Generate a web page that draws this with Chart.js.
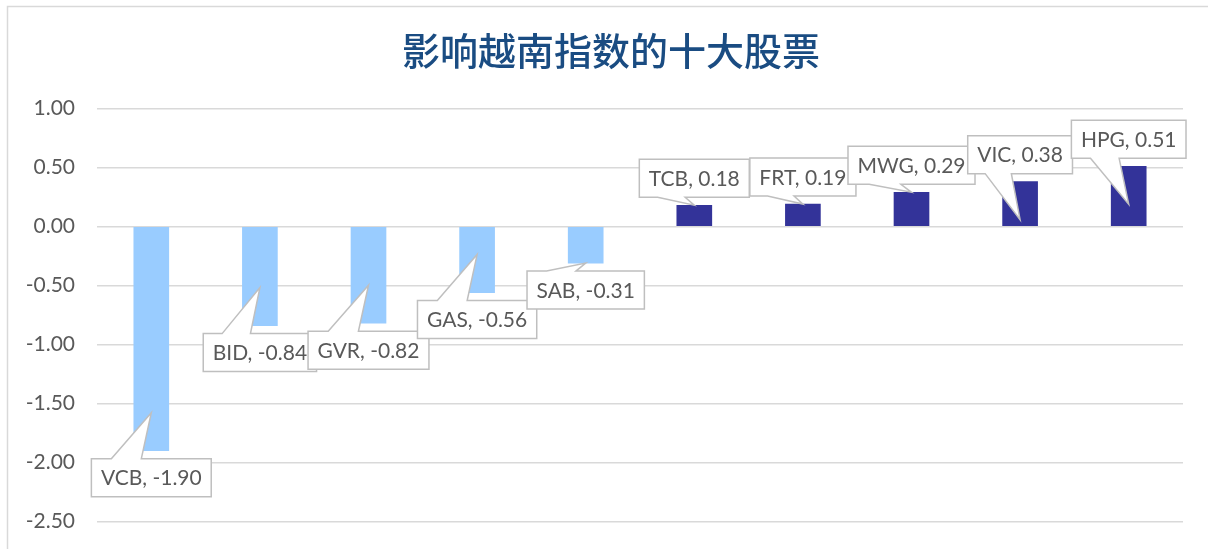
<!DOCTYPE html>
<html>
<head>
<meta charset="utf-8">
<script src="https://cdn.jsdelivr.net/npm/chart.js@4/dist/chart.umd.min.js"></script>
<style>
  html, body { margin: 0; padding: 0; background: #ffffff; }
  #wrap { width: 1208px; height: 549px; }
</style>
</head>
<body>
<div id="wrap"><canvas id="c" width="1208" height="549"></canvas></div>
<script>
// ---- data ----
const titleText = '影响越南指数的十大股票';
const categories = ['VCB', 'BID', 'GVR', 'GAS', 'SAB', 'TCB', 'FRT', 'MWG', 'VIC', 'HPG'];
const values = [-1.90, -0.84, -0.82, -0.56, -0.31, 0.18, 0.19, 0.29, 0.38, 0.51];
const yTickValues = [1.00, 0.50, 0.00, -0.50, -1.00, -1.50, -2.00, -2.50];

// ---- styling ----
const NEG_COLOR = '#99CCFF';
const POS_COLOR = '#333399';
const TEXT_COLOR = '#595959';
const GRID_COLOR = '#D9D9D9';
const LABEL_FONT = '21px Lato';
// how far inside the bar each callout's pointer reaches (px)
const tipInset = [38, 38, 38, 38, 0, 0, 0, 0, 38, 38];
// target plot area (px)
const PLOT = { top: 108.5, bottom: 521.5 };

const frameAndTitle = {
  id: 'frameAndTitle',
  beforeDraw(chart) {
    const ctx = chart.ctx;
    ctx.save();
    ctx.fillStyle = '#ffffff';
    ctx.fillRect(0, 0, chart.width, chart.height);
    ctx.strokeStyle = GRID_COLOR;
    ctx.lineWidth = 1.5;
    ctx.beginPath();
    ctx.moveTo(7.5, chart.height);
    ctx.lineTo(7.5, 6.5);
    ctx.lineTo(chart.width, 6.5);
    ctx.stroke();
    ctx.fillStyle = '#1A4C82';
    ctx.font = '500 38px "Noto Sans CJK SC"';
    ctx.textAlign = 'center';
    ctx.textBaseline = 'middle';
    ctx.fillText(titleText, 611, 51);
    ctx.restore();
  }
};

const callouts = {
  id: 'callouts',
  afterDatasetsDraw(chart) {
    const ctx = chart.ctx;
    const meta = chart.getDatasetMeta(0);
    ctx.save();
    ctx.font = LABEL_FONT;
    meta.data.forEach((bar, i) => {
      const v = values[i];
      const text = categories[i] + ', ' + v.toFixed(2);
      const tw = ctx.measureText(text).width;
      const w = tw + 19, h = 38;
      const neg = v < 0;
      const cx = bar.x;
      const cy = neg ? bar.y + 27 : bar.y - 27;
      const l = cx - w / 2, r = cx + w / 2, t = cy - h / 2, b = cy + h / 2;
      const tipX = bar.x;
      const tipY = neg ? bar.y - tipInset[i] : bar.y + tipInset[i];
      const x1 = l + w * 2 / 12, x2 = l + w * 5 / 12;
      ctx.beginPath();
      ctx.moveTo(l, t);
      if (neg) {
        ctx.lineTo(x1, t);
        ctx.lineTo(tipX, tipY);
        ctx.lineTo(x2, t);
      }
      ctx.lineTo(r, t);
      ctx.lineTo(r, b);
      if (!neg) {
        ctx.lineTo(x2, b);
        ctx.lineTo(tipX, tipY);
        ctx.lineTo(x1, b);
      }
      ctx.lineTo(l, b);
      ctx.closePath();
      ctx.fillStyle = '#ffffff';
      ctx.fill();
      ctx.strokeStyle = '#BFBFBF';
      ctx.lineWidth = 1.5;
      ctx.stroke();
      ctx.fillStyle = TEXT_COLOR;
      ctx.textAlign = 'center';
      ctx.textBaseline = 'middle';
      ctx.fillText(text, cx, cy + 1);
    });
    ctx.restore();
  }
};

new Chart(document.getElementById('c'), {
  type: 'bar',
  data: {
    labels: categories,
    datasets: [{
      data: values,
      backgroundColor: values.map(v => v < 0 ? NEG_COLOR : POS_COLOR),
      borderWidth: 0,
      barThickness: 35
    }]
  },
  options: {
    responsive: false,
    animation: false,
    devicePixelRatio: 1,
    layout: { padding: { top: PLOT.top, bottom: 549 - PLOT.bottom, left: 0, right: 25 } },
    plugins: {
      legend: { display: false },
      title: { display: false },
      tooltip: { enabled: false }
    },
    scales: {
      x: { display: false },
      y: {
        min: -2.5,
        max: 1,
        afterFit(scale) { scale.width = 97; scale.paddingTop = 0; scale.paddingBottom = 0; },
        afterBuildTicks(scale) { scale.ticks = yTickValues.map(v => ({ value: v })); },
        ticks: {
          padding: 22,
          color: TEXT_COLOR,
          font: { family: 'Lato', size: 21 },
          callback: v => Number(v).toFixed(2)
        },
        grid: { color: GRID_COLOR, lineWidth: 1.5, drawTicks: false },
        border: { display: false }
      }
    }
  },
  plugins: [frameAndTitle, callouts]
});
</script>
</body>
</html>
